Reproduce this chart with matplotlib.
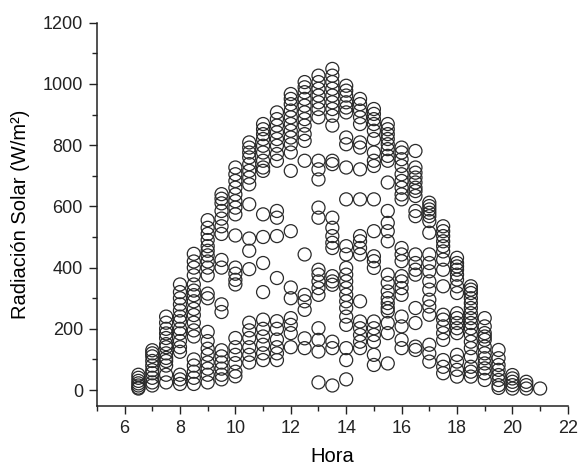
import numpy as np
import matplotlib
matplotlib.use("Agg")
import matplotlib.pyplot as plt
from matplotlib.ticker import MultipleLocator

plt.rcParams['font.family'] = ['Liberation Sans', 'DejaVu Sans']

# hour of each column of readings
hours = [6.5, 7, 7.5, 8, 8.5, 9, 9.5, 10, 10.5, 11, 11.5, 12, 12.5, 13, 13.5,
         14, 14.5, 15, 15.5, 16, 16.5, 17, 17.5, 18, 18.5, 19, 19.5, 20, 20.5, 21]

# solar radiation (W/m2)
radiacion = [
    [50, 40, 30, 22, 15, 8, 5],
    [130, 120, 110, 95, 80, 65, 55, 40, 25, 15],
    [240, 220, 200, 185, 170, 150, 140, 120, 105, 95, 80, 50, 25],
    [345, 320, 300, 280, 260, 240, 225, 200, 185, 160, 140, 125, 50, 35, 20],
    [445, 420, 400, 375, 345, 325, 310, 290, 265, 245, 220, 195, 175, 100, 80, 60, 40, 20],
    [555, 530, 510, 490, 470, 455, 440, 420, 400, 375, 315, 300, 190, 160, 135, 115, 90, 70, 50, 25],
    [640, 625, 610, 585, 560, 535, 510, 425, 400, 280, 255, 130, 110, 90, 70, 50, 35],
    [727, 705, 683, 661, 639, 617, 596, 574, 505, 400, 380, 360, 345, 170, 140, 115, 88, 60, 45],
    [809, 792, 776, 760, 738, 716, 694, 672, 607, 495, 455, 395, 220, 195, 170, 140, 115, 90],
    [869, 852, 836, 820, 798, 776, 749, 727, 716, 574, 500, 415, 320, 230, 200, 175, 148, 120, 98],
    [907, 885, 864, 842, 820, 798, 771, 749, 585, 563, 503, 366, 225, 200, 165, 140, 120, 98],
    [967, 951, 934, 913, 891, 869, 847, 825, 803, 776, 716, 519, 335, 300, 235, 213, 186, 140],
    [1006, 989, 973, 951, 929, 907, 885, 864, 836, 814, 749, 443, 311, 290, 262, 169, 137],
    [1027, 1006, 984, 962, 940, 918, 891, 749, 721, 688, 596, 563, 393, 377, 355, 333, 311, 202, 164, 126, 25],
    [1049, 1027, 1006, 984, 962, 940, 918, 896, 864, 749, 738, 563, 530, 503, 481, 464, 372, 355, 344, 158, 137, 15],
    [994, 978, 962, 940, 923, 907, 825, 803, 727, 623, 470, 443, 399, 377, 355, 333, 311, 290, 268, 240, 213, 137, 98, 35],
    [951, 934, 913, 891, 869, 809, 792, 721, 623, 503, 486, 464, 443, 290, 224, 202, 180, 158, 137],
    [918, 902, 885, 869, 847, 820, 776, 749, 732, 623, 519, 437, 421, 399, 224, 202, 180, 158, 115, 82],
    [869, 852, 836, 820, 803, 787, 765, 749, 678, 585, 546, 519, 486, 377, 350, 322, 300, 284, 268, 257, 219, 186, 87],
    [792, 776, 754, 732, 705, 683, 661, 639, 623, 464, 443, 421, 372, 355, 333, 311, 240, 208, 164, 137],
    [781, 727, 710, 694, 678, 661, 650, 634, 585, 568, 443, 415, 393, 377, 268, 219, 142, 131],
    [612, 601, 590, 579, 568, 552, 514, 443, 415, 388, 355, 328, 295, 273, 246, 148, 120, 93],
    [535, 519, 503, 486, 470, 453, 426, 393, 339, 246, 230, 208, 186, 164, 98, 76, 55],
    [432, 415, 404, 393, 377, 361, 339, 317, 251, 235, 219, 202, 186, 115, 93, 66, 44],
    [339, 328, 317, 300, 284, 268, 251, 235, 219, 202, 180, 158, 137, 109, 76, 60, 44],
    [235, 208, 186, 175, 164, 142, 120, 104, 87, 71, 55, 33],
    [131, 104, 82, 66, 49, 33, 16, 7],
    [49, 38, 27, 16, 5],
    [27, 16, 5],
    [5],
]

x = np.concatenate([[h] * len(v) for h, v in zip(hours, radiacion)])
y = np.concatenate(radiacion)

fig = plt.figure(figsize=(5.8, 4.68), dpi=100)
ax = fig.add_axes([0.167, 0.1325, 0.812, 0.819])

ax.scatter(x, y, s=88, facecolors='none', edgecolors='#2a2a2a',
           linewidths=0.9, clip_on=False)

ax.set_xlim(5, 22)
ax.set_ylim(-52, 1200)
ax.xaxis.set_major_locator(MultipleLocator(2))
ax.xaxis.set_minor_locator(MultipleLocator(1))
ax.yaxis.set_major_locator(MultipleLocator(200))
ax.yaxis.set_minor_locator(MultipleLocator(100))

for side in ['top', 'right']:
    ax.spines[side].set_visible(False)
for side in ['left', 'bottom']:
    ax.spines[side].set_linewidth(1.1)
    ax.spines[side].set_color('#222222')

ax.tick_params(which='major', direction='out', length=6, width=1.0,
               labelsize=13, pad=4, colors='#222222')
ax.tick_params(which='minor', direction='out', length=3.5, width=1.0,
               colors='#222222')

ax.set_xlabel('Hora', fontsize=14.5, labelpad=7)
ax.set_ylabel('Radiación Solar (W/m²)', fontsize=14.5, labelpad=9)

plt.savefig('out.png', dpi=100)
